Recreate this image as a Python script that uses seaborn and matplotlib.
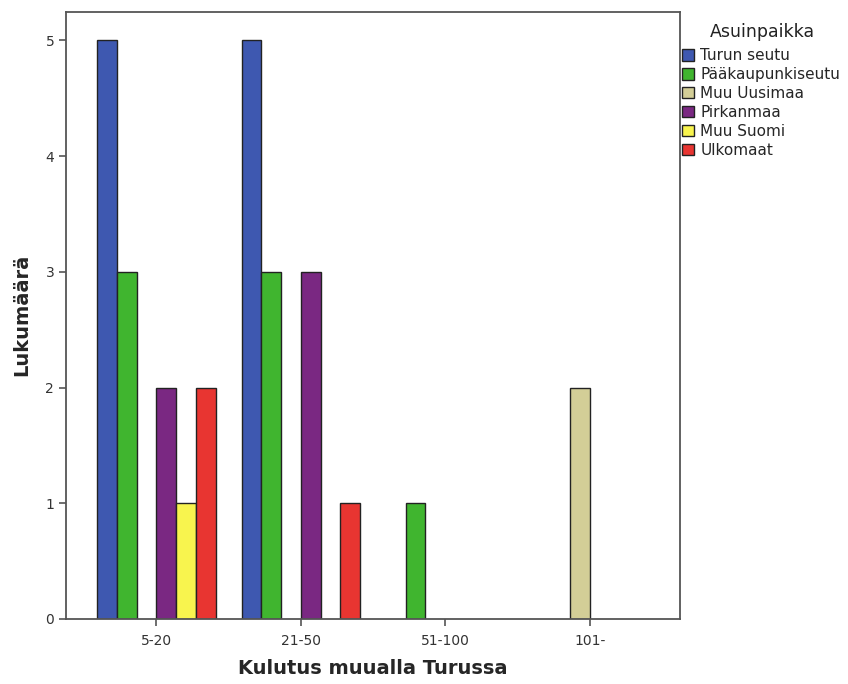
import pandas as pd
import numpy as np
import matplotlib
matplotlib.use("Agg")
import matplotlib.pyplot as plt
import seaborn as sns
from matplotlib.patches import Patch

# categories on x axis
kulutus = ["5-20", "21-50", "51-100", "101-"]
# hue groups
asuinpaikka = ["Turun seutu", "Pääkaupunkiseutu", "Muu Uusimaa", "Pirkanmaa", "Muu Suomi", "Ulkomaat"]
varit = ["#3e58b0", "#40b52f", "#d3ce97", "#7a2882", "#f8f44e", "#e83531"]

# counts per group, one list per place of residence
turun_seutu = [5, 5, 0, 0]
paakaupunkiseutu = [3, 3, 1, 0]
muu_uusimaa = [0, 0, 0, 2]
pirkanmaa = [2, 3, 0, 0]
muu_suomi = [1, 0, 0, 0]
ulkomaat = [2, 1, 0, 0]

counts = [turun_seutu, paakaupunkiseutu, muu_uusimaa, pirkanmaa, muu_suomi, ulkomaat]

# long format, leave out empty cells (SPSS draws nothing there)
rows = []
for paikka, vals in zip(asuinpaikka, counts):
    for k, v in zip(kulutus, vals):
        if v > 0:
            rows.append({"Kulutus": k, "Asuinpaikka": paikka, "Lukumaara": v})
df = pd.DataFrame(rows)

sns.set_style("white")
plt.rcParams["font.family"] = ["DejaVu Sans"]

fig = plt.figure(figsize=(8.48, 6.84), dpi=100)
ax = fig.add_axes([66/848, 1-619/684, (680-66)/848, (619-11.5)/684])

sns.barplot(data=df, x="Kulutus", y="Lukumaara", hue="Asuinpaikka",
            order=kulutus, hue_order=asuinpaikka, palette=varit,
            width=0.82, gap=0, edgecolor="#222222", linewidth=1.0,
            saturation=1, legend=False, ax=ax)

ax.set_xlim(-0.625, 3.625)
ax.set_ylim(0, 5.25)
ax.set_yticks([0, 1, 2, 3, 4, 5])

for s in ax.spines.values():
    s.set_color("#555555")
    s.set_linewidth(1.3)
    s.set_visible(True)

ax.tick_params(axis="both", direction="out", length=5, width=1.2, color="#555555",
               labelsize=10, labelcolor="#333333", bottom=True, left=True)
ax.tick_params(axis="x", pad=6)

ax.set_xlabel("Kulutus muualla Turussa", fontsize=14, fontweight="bold", labelpad=8)
ax.set_ylabel("Lukumäärä", fontsize=14, fontweight="bold", labelpad=10)

# legend title placed separately to get the wider gap of the original
fig.text(762/848, 1-32/684, "Asuinpaikka", ha="center", va="center",
         fontsize=12.5, color="#222222")
handles = [Patch(facecolor=c, edgecolor="#222222", linewidth=1.0) for c in varit]
fig.legend(handles, asuinpaikka, loc="upper left",
           bbox_to_anchor=(682/848, 1-48/684), frameon=False,
           fontsize=11, borderpad=0, borderaxespad=0,
           handlelength=0.8, handleheight=0.8, handletextpad=0.4,
           labelspacing=0.26)

fig.savefig("out.png", dpi=100)
